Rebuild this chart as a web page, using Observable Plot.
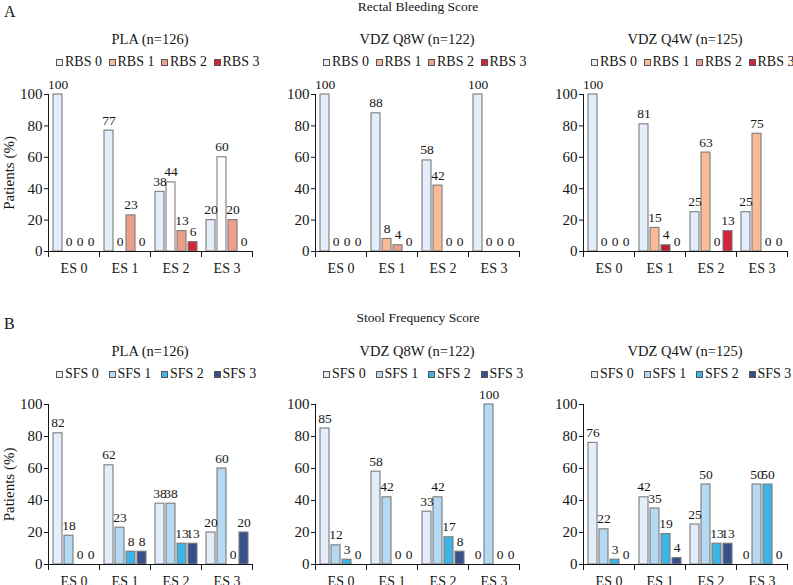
<!DOCTYPE html>
<html><head><meta charset="utf-8">
<script src="https://cdn.jsdelivr.net/npm/d3@7"></script>
<script src="https://cdn.jsdelivr.net/npm/@observablehq/plot@0.6"></script>
<style>
body{margin:0;background:#fff;}
#root{position:relative;width:793px;height:585px;overflow:hidden;font-family:"Liberation Serif","Times New Roman",Times,Tinos,serif;color:#161616;background:#fff;}
.t{position:absolute;white-space:nowrap;line-height:1;}
.lg{position:absolute;white-space:nowrap;line-height:1;font-size:14px;}
.lg span.it{display:inline-block;width:52.5px;}
.lg span.sw{display:inline-block;width:5px;height:5px;border:1px solid #555;margin-right:2px;vertical-align:baseline;}
.pl{position:absolute;}
</style></head><body><div id="root"></div>
<script>
// ---- data ----
const esCats = ["ES 0", "ES 1", "ES 2", "ES 3"];
const rbsSeries = ["RBS 0", "RBS 1", "RBS 2", "RBS 3"];
const sfsSeries = ["SFS 0", "SFS 1", "SFS 2", "SFS 3"];
const groups = ["PLA (n=126)", "VDZ Q8W (n=122)", "VDZ Q4W (n=125)"];
const sectionTitles = ["Rectal Bleeding Score", "Stool Frequency Score"];
const sectionLetters = ["A", "B"];
// rows = ES category, columns = score series (%)
const rbsPLA = [[100, 0, 0, 0], [77, 0, 23, 0], [38, 44, 13, 6], [20, 60, 20, 0]];
const rbsQ8W = [[100, 0, 0, 0], [88, 8, 4, 0], [58, 42, 0, 0], [100, 0, 0, 0]];
const rbsQ4W = [[100, 0, 0, 0], [81, 15, 4, 0], [25, 63, 0, 13], [25, 75, 0, 0]];
const sfsPLA = [[82, 18, 0, 0], [62, 23, 8, 8], [38, 38, 13, 13], [20, 60, 0, 20]];
const sfsQ8W = [[85, 12, 3, 0], [58, 42, 0, 0], [33, 42, 17, 8], [0, 100, 0, 0]];
const sfsQ4W = [[76, 22, 3, 0], [42, 35, 19, 4], [25, 50, 13, 13], [0, 50, 50, 0]];
const yTicks = [0, 20, 40, 60, 80, 100];

// ---- styles ----
const FONT = '"Liberation Serif", "Times New Roman", Times, Tinos, serif';
const rbsLegendColors = ["#e3eefa", "#f9bb98", "#eca08b", "#d3243a"];
const sfsLegendColors = ["#e3eefa", "#b5d9f2", "#3eb4e6", "#35508b"];
const rbsBarColors = [
  ["#e3eefa", "#ffffff", "#eca08b", "#d3243a"],
  ["#e3eefa", "#f9bb98", "#eca08b", "#d3243a"],
  ["#e3eefa", "#f9bb98", "#b81d32", "#d3243a"]
];
const sfsBarColors = [sfsLegendColors, sfsLegendColors, sfsLegendColors];

const root = document.getElementById("root");
const ink = "#161616";

function addText(txt, x, baseline, size, center) {
  const d = document.createElement("div");
  d.className = "t";
  d.textContent = txt;
  d.style.fontSize = size + "px";
  d.style.left = x + "px";
  d.style.top = (baseline - 0.84 * size) + "px";
  if (center) d.style.transform = "translateX(-50%)";
  root.appendChild(d);
}

function addLegend(series, colors, x, baseline) {
  const d = document.createElement("div");
  d.className = "lg";
  d.style.left = x + "px";
  d.style.top = (baseline - 0.84 * 14) + "px";
  series.forEach((s, i) => {
    const it = document.createElement("span");
    it.className = "it";
    const sw = document.createElement("span");
    sw.className = "sw";
    sw.style.background = colors[i];
    it.appendChild(sw);
    it.appendChild(document.createTextNode(s));
    d.appendChild(it);
  });
  root.appendChild(d);
}

function panel(values, series, colors, axisX, plotTop, plotH, yLabel) {
  const data = [];
  esCats.forEach((es, i) => series.forEach((s, j) => data.push({es, s, v: values[i][j]})));
  const mT = 20, mB = 30, mL = 47, mR = 5;
  const chart = Plot.plot({
    width: mL + 206 + mR, height: mT + plotH + mB,
    marginTop: mT, marginBottom: mB, marginLeft: mL, marginRight: mR,
    style: {fontFamily: FONT, fontSize: "14px", background: "transparent", color: ink, overflow: "visible"},
    fx: {domain: esCats, padding: 0, label: null},
    x: {domain: series, paddingInner: 0.2, paddingOuter: 0.4, axis: null},
    y: {domain: [0, 100], label: null},
    color: {domain: series, range: colors},
    marks: [
      Plot.barY(data.filter(d => d.v > 0), {fx: "es", x: "s", y: "v", fill: "s", stroke: "#7b7b7b", strokeWidth: 1.1}),
      Plot.ruleY([0], {stroke: ink}),
      Plot.frame({anchor: "left", facetAnchor: "left", stroke: ink}),
      Plot.frame({anchor: "left", insetTop: plotH, insetBottom: -5, stroke: ink}),
      Plot.frame({anchor: "right", facetAnchor: "right", insetTop: plotH, insetBottom: -5, stroke: ink}),
      Plot.axisY({ticks: yTicks, tickSize: 4, tickPadding: 2, fontSize: 15, label: yLabel, labelAnchor: "center", labelOffset: 45, labelArrow: "none"}),
      Plot.axisFx({anchor: "bottom", tickSize: 0, tickPadding: 12, fontSize: 14, label: null}),
      Plot.text(data, {fx: "es", x: "s", y: "v", text: d => String(d.v), lineAnchor: "bottom", dy: -6, fontSize: 13.5, fill: ink})
    ]
  });
  chart.classList.add("pl");
  chart.style.left = (axisX - mL) + "px";
  chart.style.top = (plotTop - mT) + "px";
  root.appendChild(chart);
}

const axisXs = [47, 314, 582];
const rows = [
  {vals: [rbsPLA, rbsQ8W, rbsQ4W], series: rbsSeries, barColors: rbsBarColors, legend: rbsLegendColors,
   plotTop: 94, plotH: 157, titleBase: 11.5, letterBase: 17, subBase: 44, legBase: 66.5},
  {vals: [sfsPLA, sfsQ8W, sfsQ4W], series: sfsSeries, barColors: sfsBarColors, legend: sfsLegendColors,
   plotTop: 404, plotH: 160, titleBase: 322, letterBase: 329, subBase: 356, legBase: 379}
];

rows.forEach((r, ri) => {
  addText(sectionLetters[ri], 4, r.letterBase, 16, false);
  addText(sectionTitles[ri], 418, r.titleBase, 13.5, true);
  axisXs.forEach((ax, gi) => {
    addText(groups[gi], ax + 103, r.subBase, 14.5, true);
    addLegend(r.series, r.legend, ax + 9, r.legBase);
    panel(r.vals[gi], r.series, r.barColors[gi], ax, r.plotTop, r.plotH, gi === 0 ? "Patients (%)" : null);
  });
});
</script>
</body></html>
